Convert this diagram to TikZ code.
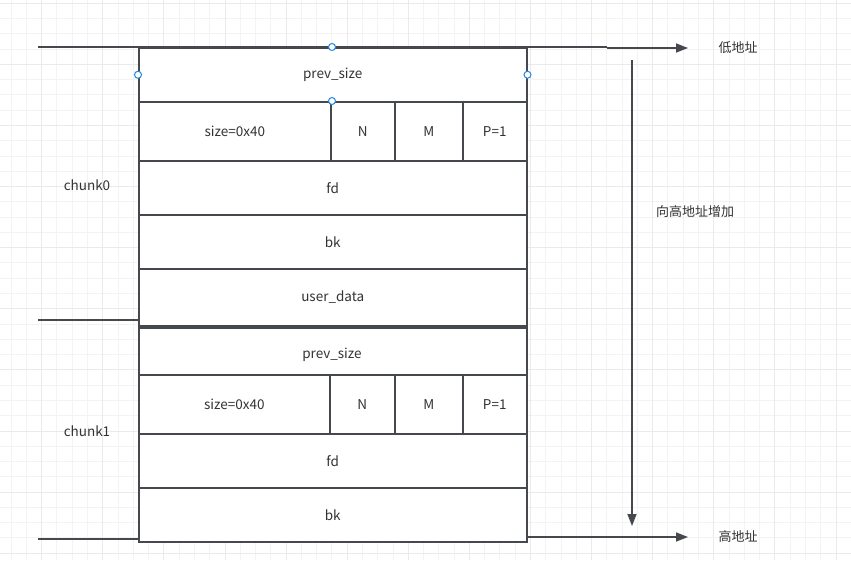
\documentclass[tikz,border=0pt]{standalone}
\usepackage{fontspec}
\newfontfamily\cjk{Noto Sans CJK SC}
\usetikzlibrary{arrows.meta}
\definecolor{ln}{HTML}{45484D}
\definecolor{tx}{HTML}{333333}
\definecolor{gmin}{HTML}{F3F3F3}
\definecolor{gmaj}{HTML}{EAEAEA}
\definecolor{hnd}{HTML}{1E88E5}
\tikzset{
  cell/.style={draw=ln, line width=1.5pt, fill=white, inner sep=0pt, anchor=north west,
    font=\cjk\fontsize{13.5}{16}\selectfont, text=tx},
  lbl/.style={font=\cjk\fontsize{13}{15}\selectfont, text=tx, inner sep=1pt},
  ltxt/.style={font=\cjk\fontsize{13.5}{16}\selectfont, text=tx, inner sep=1pt},
  wire/.style={draw=ln, line width=1.5pt},
  arr/.style={draw=ln, line width=1.5pt, -{Triangle[length=12pt,width=9pt]}},
  handle/.style={circle, draw=hnd, fill=white, line width=1pt, minimum size=7pt, inner sep=0pt}
}
\begin{document}
\begin{tikzpicture}[x=1pt,y=-1pt]
\useasboundingbox (0,0) rectangle (851,560);
\fill[white] (0,0) rectangle (851,560);
% grid
\foreach \i in {0,...,57} {
  \pgfmathsetmacro\gx{-19.4+15.275*\i}
  \draw[gmin, line width=1pt] (\gx,0) -- (\gx,560);
}
\foreach \i in {0,...,37} {
  \pgfmathsetmacro\gy{3.3-15.275+15.275*\i}
  \draw[gmin, line width=1pt] (0,\gy) -- (851,\gy);
}
\foreach \i in {0,...,14} {
  \pgfmathsetmacro\gx{-19.4+61.1*\i}
  \draw[gmaj, line width=1pt] (\gx,0) -- (\gx,560);
}
\foreach \i in {0,...,9} {
  \pgfmathsetmacro\gy{3.3+61.1*\i}
  \draw[gmaj, line width=1pt] (0,\gy) -- (851,\gy);
}
% coordinates
\coordinate (tl) at (38,47);
\coordinate (tr) at (607,47);
\coordinate (ta) at (607,48);
\coordinate (te) at (688,48);
\coordinate (ml) at (38,320);
\coordinate (mr) at (138,320);
\coordinate (bl) at (38,539);
\coordinate (br) at (138,539);
\coordinate (ba) at (526,537);
\coordinate (be) at (688,537);
\coordinate (vs) at (632,60);
\coordinate (ve) at (632,526);
% chunk0
\node[cell, minimum width=388pt, minimum height=54pt] (c0prev) at (138,47) {prev\_size};
\node[cell, minimum width=192pt, minimum height=59pt] (c0size) at (138,101) {size=0x40};
\node[cell, minimum width=64pt, minimum height=59pt] (c0N) at (330,101) {N};
\node[cell, minimum width=68pt, minimum height=59pt] (c0M) at (394,101) {M};
\node[cell, minimum width=64pt, minimum height=59pt] (c0P) at (462,101) {P=1};
\node[cell, minimum width=388pt, minimum height=54pt] (c0fd) at (138,160) {fd};
\node[cell, minimum width=388pt, minimum height=54pt] (c0bk) at (138,214) {bk};
\node[cell, minimum width=388pt, minimum height=57pt] (c0ud) at (138,268) {user\_data};
% chunk1
\node[cell, minimum width=388pt, minimum height=47pt] (c1prev) at (138,327) {};
\node[ltxt] (c1prevt) at (332,355) {prev\_size};
\node[cell, minimum width=191pt, minimum height=59pt] (c1size) at (138,374) {size=0x40};
\node[cell, minimum width=65pt, minimum height=59pt] (c1N) at (329,374) {N};
\node[cell, minimum width=68pt, minimum height=59pt] (c1M) at (394,374) {M};
\node[cell, minimum width=64pt, minimum height=59pt] (c1P) at (462,374) {P=1};
\node[cell, minimum width=388pt, minimum height=54pt] (c1fd) at (138,433) {fd};
\node[cell, minimum width=388pt, minimum height=54pt] (c1bk) at (138,487) {bk};
% labels
\node[ltxt] (ch0) at (87,185) {chunk0};
\node[ltxt] (ch1) at (87,431) {chunk1};
\node[lbl] (lo) at (738,48) {低地址};
\node[lbl] (hi) at (738,537) {高地址};
\node[lbl] (inc) at (695,212) {向高地址增加};
% wires
\draw[wire] (tl) -- (tr);
\draw[arr] (ta) -- (te);
\draw[wire] (ml) -- (mr);
\draw[wire] (bl) -- (br);
\draw[arr] (ba) -- (be);
\draw[arr] (vs) -- (ve);
% selection handles
\node[handle] (h1) at (c0prev.west) {};
\node[handle] (h2) at (c0prev.east) {};
\node[handle] (h3) at (332,47) {};
\node[handle] (h4) at (332,101) {};
\end{tikzpicture}
\end{document}
